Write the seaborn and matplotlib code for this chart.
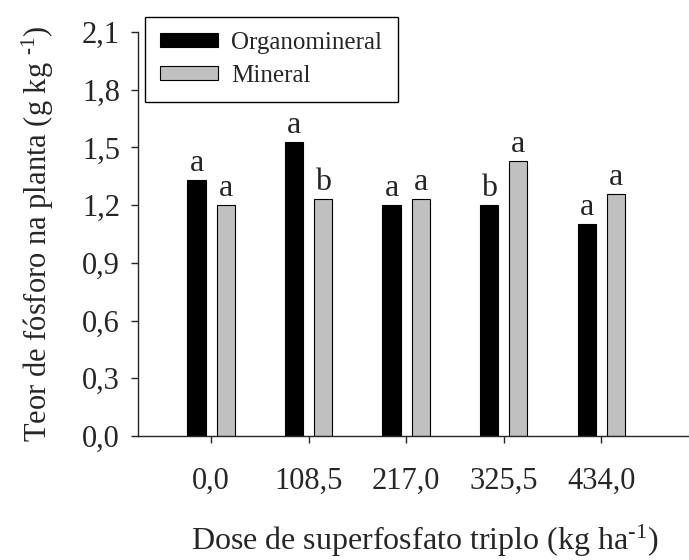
import matplotlib
matplotlib.use('Agg')
import matplotlib.pyplot as plt
import seaborn as sns
import pandas as pd

# ---- data ----
doses = ["0,0", "108,5", "217,0", "325,5", "434,0"]
organomineral = [1.33, 1.53, 1.20, 1.20, 1.10]
mineral = [1.20, 1.23, 1.23, 1.43, 1.26]
letters_org = ["a", "a", "a", "b", "a"]
letters_min = ["a", "b", "a", "a", "a"]
series_names = ["Organomineral", "Mineral"]
yticks = [0.0, 0.3, 0.6, 0.9, 1.2, 1.5, 1.8, 2.1]
ytick_labels = ["0,0", "0,3", "0,6", "0,9", "1,2", "1,5", "1,8", "2,1"]

sns.set_style('ticks')
plt.rcParams['font.family'] = ['Liberation Serif', 'DejaVu Serif']
plt.rcParams['mathtext.fontset'] = 'custom'
plt.rcParams['mathtext.rm'] = 'Liberation Serif'
plt.rcParams['mathtext.default'] = 'regular'
plt.rcParams['axes.linewidth'] = 1.0

df = pd.DataFrame({
    'Dose': doses * 2,
    'Teor': organomineral + mineral,
    'Tipo': [series_names[0]] * len(doses) + [series_names[1]] * len(doses),
})

fig = plt.figure(figsize=(6.89, 5.6), dpi=100)
ax = fig.add_axes([138 / 689, 1 - 436 / 560, 551 / 689, 404 / 560])

sns.barplot(data=df, x='Dose', y='Teor', hue='Tipo', order=doses,
            hue_order=series_names, palette=['black', '#c0c0c0'],
            saturation=1, width=0.6, gap=0.38, edgecolor='black',
            linewidth=0.8, errorbar=None, ax=ax)

for container, letters in zip(ax.containers, [letters_org, letters_min]):
    for bar, l in zip(container, letters):
        ax.annotate(l, (bar.get_x() + bar.get_width() / 2, bar.get_height()),
                    xytext=(0, 6.5), textcoords='offset points',
                    ha='center', va='baseline', fontsize=23)

ax.set_xlim(-0.75, 4.90)
ax.set_ylim(0, 2.1)
ax.set_yticks(yticks)
ax.set_yticklabels(ytick_labels)
sns.despine(ax=ax)

ax.tick_params(axis='x', direction='out', length=5, width=1, pad=17, labelsize=22)
ax.tick_params(axis='y', direction='out', length=5, width=1, pad=8, labelsize=22)

ax.set_xlabel(r'Dose de superfosfato triplo (kg ha$^{\text{-}1}$)', fontsize=23)
ax.set_ylabel(r'Teor de fósforo na planta (g kg $^{\text{-}1}$)', fontsize=22)
ax.xaxis.set_label_coords(0.52, -0.215)
ax.yaxis.set_label_coords(-0.148, 0.5)

handles, labels = ax.get_legend_handles_labels()
if ax.get_legend() is not None:
    ax.get_legend().remove()
leg = ax.legend(handles, labels, loc='upper left',
                bbox_to_anchor=(145 / 689, 1 - 17 / 560),
                bbox_transform=fig.transFigure, borderaxespad=0,
                fontsize=18, frameon=True, fancybox=False,
                edgecolor='black', framealpha=1,
                handlelength=2.3, handleheight=0.48, handletextpad=0.56,
                borderpad=0.6, labelspacing=0.45)
leg.get_frame().set_linewidth(1.0)

fig.savefig('out.png', dpi=100)
